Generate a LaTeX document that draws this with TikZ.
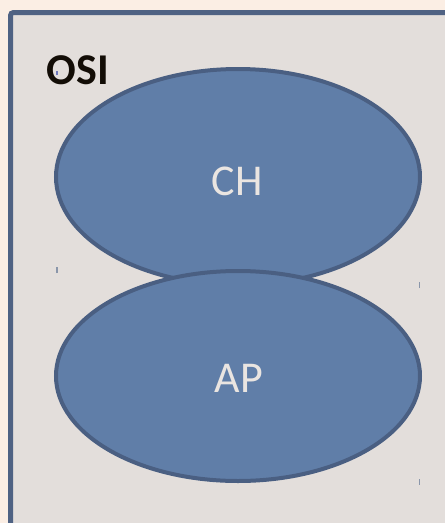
\documentclass[tikz,border=0pt]{standalone}
\usepackage{fontspec}
\setmainfont{Carlito}
\usepackage{tikz}
\usetikzlibrary{%
  shapes.geometric,% wg. ellipse
  positioning%
}

\definecolor{paper}{HTML}{FBEEE4}
\definecolor{panel}{HTML}{E3DEDB}
\definecolor{rim}{HTML}{4F6283}
\definecolor{layerfill}{HTML}{607EA8}
\definecolor{layerrim}{HTML}{4A5F82}
\definecolor{layertext}{HTML}{EAE5E1}
\definecolor{tick}{HTML}{8A96AA}

\begin{document}
\begin{tikzpicture}[x=1pt,y=-1pt,
    layer/.style={ellipse, draw=layerrim, fill=layerfill, line width=4pt,
      inner sep=0pt, text=layertext, font=\fontsize{44}{44}\selectfont},
    layername/.style={text=layertext, font=\fontsize{44}{44}\selectfont},
    tickmark/.style={draw=tick, line width=1.2pt}]
    % page and frame
    \fill[paper] (0,0) rectangle (445,523);
    \useasboundingbox (0,0) rectangle (445,523);
    \draw[rim, fill=panel, line width=5pt, rounded corners=3pt] (10.5,12.5) rectangle (460,540);

    \node[font=\bfseries\fontsize{44}{44}\selectfont, text=black!90!brown, anchor=west] (osi) at (43,70) {OSI};

    % the two layers, lower one on top
    \node[layer, minimum width=364pt, minimum height=216pt] (ch) at (238,177) {};
    \node[layer, minimum width=364pt, minimum height=210pt] (ap) at (238,376) {};
    \node[layername] (chname) at (237,181) {CH};
    \node[layername] (apname) at (239,378) {AP};

    % stray marks
    \coordinate (m1) at (57,270);
    \coordinate (m2) at (419.5,285);
    \coordinate (m3) at (419.5,481.5);
    \coordinate (m4) at (57,73);
    \foreach \m in {m1,m2,m3} \draw[tickmark] ([yshift=-3pt]\m) -- ([yshift=3pt]\m);
    \draw[tickmark, draw=tick!80!blue] ([yshift=-2pt]m4) -- ([yshift=2pt]m4);
\end{tikzpicture}
\end{document}
